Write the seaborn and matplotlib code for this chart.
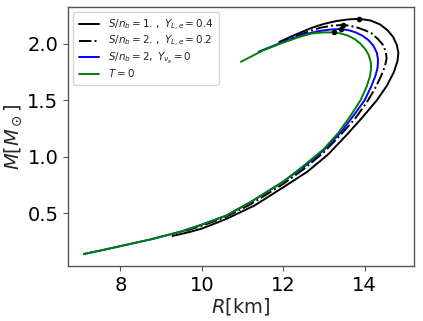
import numpy as np
import pandas as pd
import seaborn as sns
import matplotlib
matplotlib.use('Agg')
import matplotlib.pyplot as plt

# Mass-radius sequences (R in km, M in solar masses), ordered along central density
r_s1 = [9.28, 9.7, 10.0, 10.6, 11.3, 12.0, 12.6, 13.1, 13.55, 13.95, 14.3, 14.55, 14.72,
        14.81, 14.83, 14.79, 14.7, 14.56, 14.38, 14.15, 13.87, 13.6, 13.3, 13.0, 12.7,
        12.3, 11.9]
m_s1 = [0.30, 0.335, 0.365, 0.45, 0.57, 0.73, 0.87, 1.02, 1.19, 1.35, 1.50, 1.63, 1.75,
        1.85, 1.92, 1.99, 2.06, 2.12, 2.17, 2.205, 2.22, 2.215, 2.20, 2.175, 2.14,
        2.08, 2.015]

r_s2 = [9.6, 10.0, 10.6, 11.2, 11.6, 12.0, 12.5, 13.0, 13.4, 13.75, 14.05, 14.25, 14.4,
        14.5, 14.54, 14.52, 14.45, 14.33, 14.18, 14.0, 13.8, 13.62, 13.46, 13.2, 12.9,
        12.6, 12.3, 12.0]
m_s2 = [0.345, 0.39, 0.47, 0.58, 0.67, 0.76, 0.89, 1.04, 1.19, 1.33, 1.48, 1.60, 1.71,
        1.80, 1.87, 1.93, 1.99, 2.04, 2.09, 2.12, 2.145, 2.16, 2.165, 2.16, 2.14,
        2.105, 2.065, 2.02]

r_nu = [7.10, 7.5, 8.0, 8.75, 9.5, 10.0, 10.6, 11.2, 11.6, 12.0, 12.5, 13.0, 13.4, 13.72,
        14.0, 14.16, 14.27, 14.32, 14.33, 14.3, 14.22, 14.1, 13.95, 13.78, 13.6, 13.41,
        13.15, 12.85, 12.5, 12.1, 11.75, 11.4]
m_nu = [0.14, 0.17, 0.21, 0.27, 0.34, 0.40, 0.48, 0.60, 0.69, 0.78, 0.91, 1.06, 1.21, 1.36,
        1.50, 1.62, 1.72, 1.79, 1.86, 1.92, 1.98, 2.03, 2.07, 2.10, 2.12, 2.13,
        2.125, 2.11, 2.08, 2.03, 1.98, 1.93]

r_t0 = [7.10, 7.5, 8.0, 8.75, 9.5, 10.0, 10.6, 11.2, 11.6, 12.0, 12.5, 13.0, 13.35, 13.65,
        13.9, 14.05, 14.13, 14.16, 14.15, 14.1, 14.02, 13.9, 13.76, 13.6, 13.42, 13.24,
        13.0, 12.7, 12.4, 12.0, 11.5, 10.96]
m_t0 = [0.14, 0.17, 0.21, 0.27, 0.34, 0.40, 0.48, 0.60, 0.69, 0.78, 0.92, 1.07, 1.21, 1.36,
        1.50, 1.62, 1.71, 1.78, 1.84, 1.90, 1.95, 2.00, 2.04, 2.07, 2.09, 2.10,
        2.10, 2.09, 2.06, 2.01, 1.94, 1.84]

labels = [r'$S/n_b=1.\,,\;Y_{L,e}=0.4$',
          r'$S/n_b=2.\,,\;Y_{L,e}=0.2$',
          r'$S/n_b=2,\;Y_{\nu_e}=0$',
          r'$T=0$']
colors = ['black', 'black', 'blue', 'green']
styles = ['-', '-.', '-', '-']

sns.set_style('white')
fig, ax = plt.subplots(figsize=(4.23, 3.21), dpi=100)
fig.subplots_adjust(left=0.161, right=0.979, bottom=0.172, top=0.978)

curves = [(r_s1, m_s1), (r_s2, m_s2), (r_nu, m_nu), (r_t0, m_t0)]
for (r, m), lab, c, ls in zip(curves, labels, colors, styles):
    df = pd.DataFrame({'R': r, 'M': m})
    sns.lineplot(data=df, x='R', y='M', sort=False, estimator=None, color=c,
                 linestyle=ls, linewidth=1.4, label=lab, ax=ax)

# maximum mass markers
for r, m in curves:
    i = int(np.argmax(m))
    ax.plot(r[i], m[i], 'o', color='black', markersize=3)

for s in ax.spines.values():
    s.set_color('#555555')
    s.set_linewidth(1.0)
ax.tick_params(axis='both', labelsize=14, length=3.5, width=0.8, colors='#555555',
               labelcolor='black', bottom=True, left=True)
ax.set_xticks([8, 10, 12, 14])
ax.set_yticks([0.5, 1.0, 1.5, 2.0])
ax.set_xlabel(r'$R$[km]', fontsize=14, labelpad=1)
ax.set_ylabel(r'$M[M_\odot]$', fontsize=14, labelpad=2)
ax.legend(loc='upper left', fontsize=7.5, frameon=True, handlelength=2.0,
          borderpad=0.5, labelspacing=0.15)

fig.savefig('out.png', dpi=100)
